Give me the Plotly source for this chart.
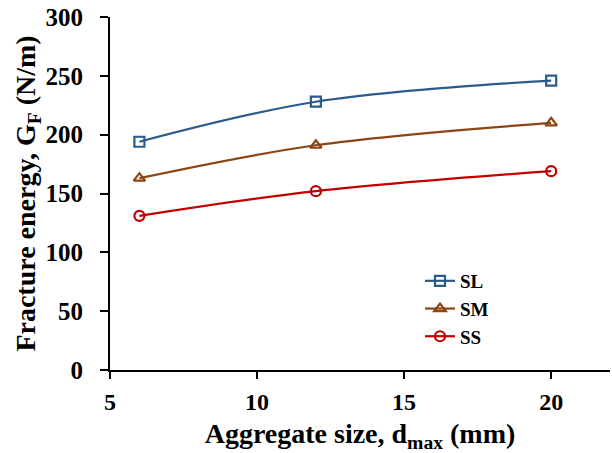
import plotly.graph_objects as go

# Aggregate size (mm) and fracture energy (N/m) per series
agg_size = [6, 12, 20]
series_names = ["SL", "SM", "SS"]
gf_sl = [194, 228, 246]
gf_sm = [163, 191, 210]
gf_ss = [131, 152, 169]

x_ticks = [5, 10, 15, 20]
y_ticks = [0, 50, 100, 150, 200, 250, 300]

colors = ["#2A5B8A", "#8B4513", "#C00000"]
symbols = ["square-open", "triangle-up-open", "circle-open"]

fig = go.Figure()
for name, vals, col, sym in zip(series_names, [gf_sl, gf_sm, gf_ss], colors, symbols):
    fig.add_trace(go.Scatter(
        x=agg_size, y=vals, name=f"<b>{name}</b>", mode="lines+markers",
        line=dict(color=col, width=2.2, shape="spline"),
        marker=dict(symbol=sym, size=10, color=col, line=dict(color=col, width=2.2)),
    ))

font_family = "Liberation Serif, Times New Roman, serif"

fig.update_layout(
    width=612, height=453,
    margin=dict(l=110, r=2, t=17, b=83, autoexpand=False),
    paper_bgcolor="white", plot_bgcolor="white",
    font=dict(family=font_family, color="black"),
    showlegend=True,
    legend=dict(
        x=0.62, y=0.306, xanchor="left", yanchor="top",
        font=dict(family=font_family, size=19, color="black"),
        bgcolor="rgba(0,0,0,0)", tracegroupgap=0, itemwidth=30,
    ),
    xaxis=dict(
        range=[5, 22], tickvals=x_ticks, ticktext=[f"<b>{v}</b>" for v in x_ticks],
        showline=True, linecolor="black", linewidth=2,
        ticks="outside", ticklen=7, tickwidth=2, tickcolor="black",
        showgrid=False, zeroline=False, ticklabelstandoff=2,
        tickfont=dict(family=font_family, size=24, color="black"),
        title=dict(text="<b>Aggregate size, d<sub>max</sub> (mm)</b>",
                   font=dict(family=font_family, size=28, color="black"), standoff=12),
    ),
    yaxis=dict(
        range=[0, 300], tickvals=y_ticks, ticktext=[f"<b>{v}</b>" for v in y_ticks],
        showline=True, linecolor="black", linewidth=2,
        ticks="outside", ticklen=8, tickwidth=2, tickcolor="black",
        showgrid=False, zeroline=False, ticklabelstandoff=12,
        tickfont=dict(family=font_family, size=25, color="black"),
        title=dict(text="<b>Fracture energy, G<sub>F</sub> (N/m)</b>",
                   font=dict(family=font_family, size=28, color="black"), standoff=2),
    ),
)

fig.write_html("out.html")
